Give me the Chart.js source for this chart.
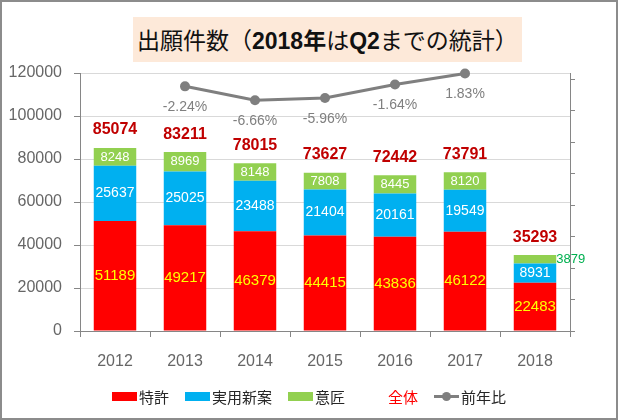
<!DOCTYPE html>
<html lang="ja">
<head>
<meta charset="utf-8">
<script src="https://cdn.jsdelivr.net/npm/chart.js@4/dist/chart.umd.min.js"></script>
<style>
    body { margin: 0; background: #fff; }
    #wrap { position: relative; width: 618px; height: 420px; overflow: hidden; }
    #chart { position: absolute; left: 0; top: 0; }
    #frame { position: absolute; left: 0; top: 0; width: 618px; height: 420px; box-sizing: border-box; border: 2px solid #8c8c8c; pointer-events: none; }
    #title {
        position: absolute; left: 133px; top: 17px; width: 389px; height: 45px;
        background: #fde9d9; box-sizing: border-box; padding-left: 4px;
        font-family: "Noto Sans CJK JP", sans-serif; font-size: 23px; line-height: 45px; color: #111; white-space: nowrap;
    }
    #title b { font-family: "Liberation Sans", Arial, sans-serif; font-weight: bold; }
    #title b.jp { font-family: "Noto Sans CJK JP", sans-serif; }
    #legend {
        position: absolute; left: 0; top: 385px; width: 618px; height: 22px;
        display: flex; justify-content: center; align-items: center;
        font-family: "Noto Sans CJK JP", sans-serif; font-size: 15px; color: #262626;
    }
    .item { display: flex; align-items: center; margin: 0 8px; }
    .box { width: 25px; height: 9px; margin-right: 2px; }
    .mark { position: relative; width: 25px; height: 10px; margin-right: 2px; }
    .mark .ln { position: absolute; left: 0; top: 4px; width: 25px; height: 3px; background: #7f7f7f; }
    .mark .dot { position: absolute; left: 8px; top: 1px; width: 9px; height: 9px; border-radius: 50%; background: #7f7f7f; }
</style>
</head>
<body>
<div id="wrap">
    <canvas id="chart" width="618" height="420"></canvas>
    <div id="title">出願件数（<b>2018</b><b class="jp">年</b>は<b>Q2</b>までの統計）</div>
    <div id="legend"></div>
    <div id="frame"></div>
</div>
<script>
// data
const years = ['2012', '2013', '2014', '2015', '2016', '2017', '2018'];
const patent = [51189, 49217, 46379, 44415, 43836, 46122, 22483];
const utility = [25637, 25025, 23488, 21404, 20161, 19549, 8931];
const design = [8248, 8969, 8148, 7808, 8445, 8120, 3879];
const total = [85074, 83211, 78015, 73627, 72442, 73791, 35293];
const yoy = [null, -2.24, -6.66, -5.96, -1.64, 1.83, null];
const leftTicks = [0, 20000, 40000, 60000, 80000, 100000, 120000];
const rightTicks = [-80, -70, -60, -50, -40, -30, -20, -10, 0];

const AXIS = '#868686';
const NUM_FONT = '"Liberation Sans", Arial, sans-serif';

// legend (html, real text)
const legendItems = [
    { text: '特許', type: 'box', color: '#ff0000' },
    { text: '実用新案', type: 'box', color: '#00b0f0' },
    { text: '意匠', type: 'box', color: '#92d050' },
    { text: '全体', type: 'none', textColor: '#ff0000' },
    { text: '前年比', type: 'line' }
];
document.getElementById('legend').innerHTML = legendItems.map(it => {
    let mark = '';
    if (it.type === 'box') mark = `<span class="box" style="background:${it.color}"></span>`;
    else if (it.type === 'none') mark = `<span class="box"></span>`;
    else mark = `<span class="mark"><span class="ln"></span><span class="dot"></span></span>`;
    return `<span class="item">${mark}<span style="color:${it.textColor || '#262626'}">${it.text}</span></span>`;
}).join('');

// value labels drawn on top of the elements
const valueLabels = {
    id: 'valueLabels',
    afterDatasetsDraw(chart) {
        const ctx = chart.ctx;
        ctx.save();
        ctx.textAlign = 'center';
        ctx.textBaseline = 'middle';
        chart.data.datasets.forEach((ds, di) => {
            const meta = chart.getDatasetMeta(di);
            meta.data.forEach((el, i) => {
                const v = ds.data[i];
                if (v === null || v === undefined) return;
                if (ds.type === 'bar') {
                    const h = Math.abs(el.base - el.y);
                    const cy = (el.y + el.base) / 2;
                    ctx.font = `${ds.labelSize}px ${NUM_FONT}`;
                    if (h < 12) {
                        ctx.textAlign = 'left';
                        ctx.fillStyle = '#00b050';
                        ctx.fillText(v, el.x + el.width / 2, cy);
                        ctx.textAlign = 'center';
                    } else {
                        ctx.fillStyle = ds.labelColor;
                        ctx.fillText(v, el.x, cy);
                    }
                } else if (ds.label === '全体') {
                    ctx.font = `bold 16px ${NUM_FONT}`;
                    ctx.fillStyle = '#c00000';
                    ctx.fillText(v, el.x, el.y - 18);
                } else {
                    ctx.font = `14px ${NUM_FONT}`;
                    ctx.fillStyle = '#7f7f7f';
                    ctx.fillText(v.toFixed(2) + '%', el.x, el.y + 21);
                }
            });
        });
        ctx.restore();
    }
};

const barCommon = { type: 'bar', stack: 's', yAxisID: 'y', categoryPercentage: 1, barPercentage: 0.607, borderWidth: 0, order: 3 };

new Chart(document.getElementById('chart'), {
    data: {
        labels: years,
        datasets: [
            { ...barCommon, label: '特許', data: patent, backgroundColor: '#ff0000', labelColor: '#ffff00', labelSize: 15 },
            { ...barCommon, label: '実用新案', data: utility, backgroundColor: '#00b0f0', labelColor: '#ffffff', labelSize: 14 },
            { ...barCommon, label: '意匠', data: design, backgroundColor: '#92d050', labelColor: '#ffffff', labelSize: 13 },
            {
                type: 'line', label: '全体', data: total, stack: 'total', yAxisID: 'y',
                showLine: false, pointRadius: 0, pointHoverRadius: 0, order: 1
            },
            {
                type: 'line', label: '前年比', data: yoy, yAxisID: 'y2', clip: false,
                borderColor: '#7f7f7f', borderWidth: 3, pointRadius: 5, pointBackgroundColor: '#7f7f7f',
                pointBorderColor: '#7f7f7f', pointBorderWidth: 0, spanGaps: false, order: 0
            }
        ]
    },
    options: {
        responsive: false,
        animation: false,
        events: [],
        layout: { padding: { top: 73, left: 0, right: 0, bottom: 0 } },
        plugins: {
            legend: { display: false },
            title: { display: false },
            tooltip: { enabled: false }
        },
        scales: {
            x: {
                stacked: true,
                offset: true,
                grid: { offset: true, drawOnChartArea: false, tickLength: 6, tickColor: AXIS },
                border: { color: AXIS },
                ticks: { font: { family: NUM_FONT, size: 16 }, color: '#666666', padding: 15, maxRotation: 0 },
                afterFit(scale) { scale.height = 89; }
            },
            y: {
                stacked: true,
                min: 0,
                max: 120000,
                afterBuildTicks(scale) { scale.ticks = leftTicks.map(v => ({ value: v })); },
                grid: { color: '#d9d9d9', tickLength: 6, tickColor: AXIS },
                border: { color: AXIS },
                ticks: { font: { family: NUM_FONT, size: 16 }, color: '#666666', padding: 12, callback: v => String(v) },
                afterFit(scale) { scale.width = 80; }
            },
            y2: {
                position: 'right',
                min: -80,
                max: 2,
                afterBuildTicks(scale) { scale.ticks = rightTicks.map(v => ({ value: v })); },
                grid: { drawOnChartArea: false, tickLength: 5, tickColor: AXIS },
                border: { color: AXIS },
                ticks: { display: false },
                afterFit(scale) { scale.width = 48; }
            }
        }
    },
    plugins: [valueLabels]
});
</script>
</body>
</html>
